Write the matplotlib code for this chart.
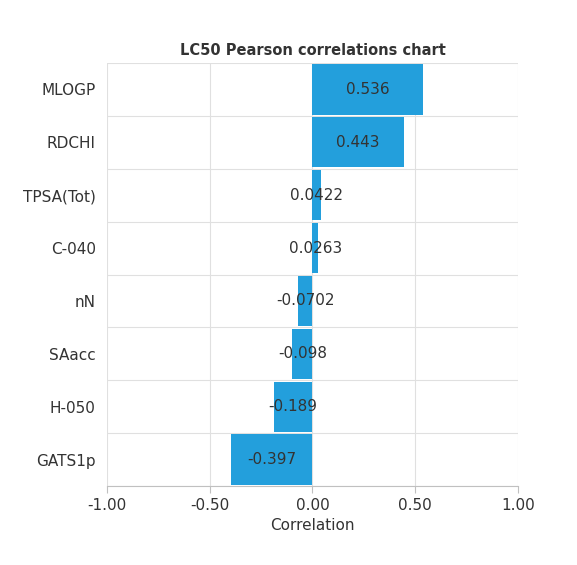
import matplotlib
matplotlib.use("Agg")
import matplotlib.pyplot as plt
import numpy as np

categories = ["MLOGP", "RDCHI", "TPSA(Tot)", "C-040", "nN", "SAacc", "H-050", "GATS1p"]
values = [0.536, 0.443, 0.0422, 0.0263, -0.0702, -0.098, -0.189, -0.397]
labels = ["0.536", "0.443", "0.0422", "0.0263", "-0.0702", "-0.098", "-0.189", "-0.397"]
xticks = [-1.0, -0.5, 0.0, 0.5, 1.0]

fig = plt.figure(figsize=(5.77, 5.65), dpi=100)
ax = fig.add_axes([0.1854, 0.1398, 0.7123, 0.7487])
n = len(categories)
y = np.arange(n)
ax.barh(y, values, height=0.95, color="#239fdc", zorder=2)
for yi, v, l in zip(y, values, labels):
    ax.text(v / 2, yi, l, ha="center", va="center", fontsize=11, color="#333333", zorder=3)
ax.set_ylim(n - 0.5, -0.5)
ax.set_xlim(-1, 1)
ax.set_yticks(y)
ax.set_yticklabels(categories, fontsize=11, color="#333333")
ax.set_xticks(xticks)
ax.set_xticklabels([f"{t:.2f}" for t in xticks], fontsize=11, color="#333333")
ax.set_yticks(np.arange(n + 1) - 0.5, minor=True)
ax.grid(True, which="minor", axis="y", color="#e0e0e0", lw=0.8, zorder=0)
ax.grid(True, which="major", axis="x", color="#e0e0e0", lw=0.8, zorder=0)
ax.tick_params(axis="y", which="both", length=0, pad=8)
ax.tick_params(axis="x", length=5, color="#c0c0c0")
for s in ["top", "right", "left"]:
    ax.spines[s].set_visible(False)
ax.spines["bottom"].set_color("#c0c0c0")
ax.set_xlabel("Correlation", fontsize=11, color="#333333")
ax.set_title("LC50 Pearson correlations chart", fontsize=10.5, fontweight="bold", color="#333333", pad=6)
fig.savefig("out.png", dpi=100)
